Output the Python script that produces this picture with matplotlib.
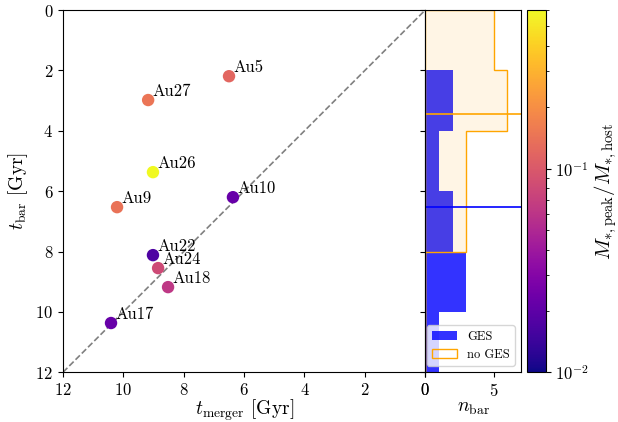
import numpy as np
import matplotlib
matplotlib.use("Agg")
import matplotlib.pyplot as plt
from matplotlib.colors import LogNorm
from matplotlib.patches import Patch

plt.rcParams['font.family'] = 'serif'
plt.rcParams['font.serif'] = ['cmr10', 'DejaVu Serif']
plt.rcParams['mathtext.fontset'] = 'cm'
plt.rcParams['axes.formatter.use_mathtext'] = True
plt.rcParams['font.size'] = 12

# haloes: merger time, bar time, mass ratio
names = ['Au5', 'Au27', 'Au26', 'Au9', 'Au10', 'Au22', 'Au24', 'Au18', 'Au17']
t_merger = [6.50, 9.18, 9.02, 10.21, 6.37, 9.02, 8.85, 8.52, 10.41]
t_bar = [2.19, 2.98, 5.37, 6.53, 6.20, 8.12, 8.55, 9.18, 10.37]
mass_ratio = [0.12, 0.145, 0.60, 0.14, 0.022, 0.017, 0.08, 0.062, 0.022]

# bar formation histogram (bins of 2 Gyr)
bin_edges = [0, 2, 4, 6, 8, 10, 12]
n_ges = [0, 2, 1, 2, 3, 1]
n_noges = [5, 6, 3, 3, 0, 0]
median_ges = 6.52
median_noges = 3.45

fig = plt.figure(figsize=(6.18, 4.22), dpi=100)
ax = fig.add_axes([0.102, 0.118, 0.586, 0.858])
axh = fig.add_axes([0.688, 0.118, 0.155, 0.858], sharey=ax)
cax = fig.add_axes([0.853, 0.118, 0.030, 0.858])

norm = LogNorm(vmin=1e-2, vmax=max(mass_ratio))
ax.plot([12, 0], [12, 0], ls='--', color='gray', lw=1.2, zorder=1)
sc = ax.scatter(t_merger, t_bar, c=mass_ratio, cmap='plasma', norm=norm,
                s=80, zorder=3, edgecolors='none')
for n, x, y in zip(names, t_merger, t_bar):
    ax.annotate(n, (x, y), xytext=(3, 3), textcoords='offset points',
                fontsize=12, zorder=4)

ax.set_xlim(12, 0)
ax.set_ylim(12, 0)
ax.set_xticks([12, 10, 8, 6, 4, 2, 0])
ax.set_yticks([0, 2, 4, 6, 8, 10, 12])
ax.set_xlabel(r'$t_{\rm merger}$ [Gyr]', fontsize=14, labelpad=0)
ax.set_ylabel(r'$t_{\rm bar}$ [Gyr]', fontsize=14)

centres = 0.5 * (np.array(bin_edges[:-1]) + np.array(bin_edges[1:]))
axh.hist(centres, bins=bin_edges, weights=n_ges, orientation='horizontal',
         color='blue', alpha=0.8, label='GES')
axh.hist(centres, bins=bin_edges, weights=n_noges, orientation='horizontal',
         histtype='stepfilled', facecolor=(1, 0.647, 0, 0.1),
         edgecolor='orange', lw=1, label='no GES')
axh.axhline(median_noges, color='orange', lw=1.2)
axh.axhline(median_ges, color='blue', lw=1.2)
axh.set_xlim(0, 7)
axh.set_xticks([0, 5])
axh.tick_params(labelleft=False)
axh.set_xlabel(r'$n_{\rm bar}$', fontsize=14, labelpad=0)
handles = [Patch(facecolor='blue', alpha=0.8, label='GES'),
           Patch(facecolor='none', edgecolor='orange', label='no GES')]
axh.legend(handles=handles, loc='lower right', fontsize=9)

cb = fig.colorbar(sc, cax=cax)
cb.set_label(r'$M_{*,\rm peak}/M_{*,\rm host}$', fontsize=15, labelpad=2)

fig.savefig('out.png', dpi=100)
